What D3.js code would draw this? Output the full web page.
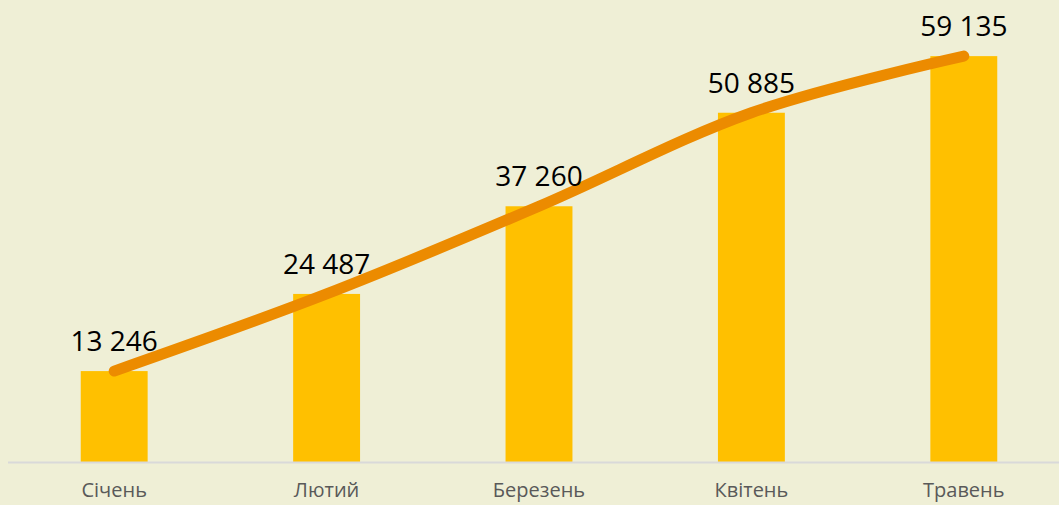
<!DOCTYPE html>
<html>
<head>
<meta charset="utf-8">
<script src="https://cdn.jsdelivr.net/npm/d3@7"></script>
<style>
  html, body { margin: 0; padding: 0; background: #efefd6; }
  svg { display: block; }
</style>
</head>
<body>
<div id="chart"></div>
<script>
const months = ['Січень', 'Лютий', 'Березень', 'Квітень', 'Травень']
const values = [13246, 24487, 37260, 50885, 59135]

const width = 1059
const height = 505
const baseline = 462

const svg = d3
  .select('#chart')
  .append('svg')
  .attr('width', width)
  .attr('height', height)

svg.append('rect').attr('width', width).attr('height', height).attr('fill', '#efefd6')

const xScale = d3.scaleBand().domain(months).range([8, 1070]).paddingInner(0.685).paddingOuter(0.3425)

const yScale = d3.scaleLinear().domain([0, 66000]).range([baseline, 9])

const formatNum = (v) => d3.format(',')(v).replace(/,/g, ' ')

const cx = (d, i) => xScale(months[i]) + xScale.bandwidth() / 2

// bars
svg
  .append('g')
  .selectAll('rect')
  .data(values)
  .join('rect')
  .attr('x', (d, i) => xScale(months[i]))
  .attr('y', (d) => yScale(d))
  .attr('width', xScale.bandwidth())
  .attr('height', (d) => yScale(0) - yScale(d))
  .attr('fill', '#ffc000')

// axis line
svg
  .append('line')
  .attr('x1', 8)
  .attr('x2', width)
  .attr('y1', baseline + 0.5)
  .attr('y2', baseline + 0.5)
  .attr('stroke', '#d9d9d9')
  .attr('stroke-width', 2)

// smoothed trend line
const line = d3
  .line()
  .x(cx)
  .y((d) => yScale(d))
  .curve(d3.curveCardinal.tension(0))

svg
  .append('path')
  .datum(values)
  .attr('d', line)
  .attr('fill', 'none')
  .attr('stroke', '#ec8b00')
  .attr('stroke-width', 11)
  .attr('stroke-linecap', 'round')
  .attr('stroke-linejoin', 'round')

// value labels
svg
  .append('g')
  .attr('font-family', '"Open Sans", sans-serif')
  .attr('font-size', 28)
  .attr('text-anchor', 'middle')
  .attr('fill', '#000')
  .selectAll('text')
  .data(values)
  .join('text')
  .attr('x', cx)
  .attr('y', (d) => yScale(d) - 20)
  .text(formatNum)

// category labels
svg
  .append('g')
  .attr('font-family', '"Open Sans", sans-serif')
  .attr('font-size', 20)
  .attr('text-anchor', 'middle')
  .attr('fill', '#595959')
  .selectAll('text')
  .data(months)
  .join('text')
  .attr('x', (d) => xScale(d) + xScale.bandwidth() / 2)
  .attr('y', 497)
  .text((d) => d)
</script>
</body>
</html>
